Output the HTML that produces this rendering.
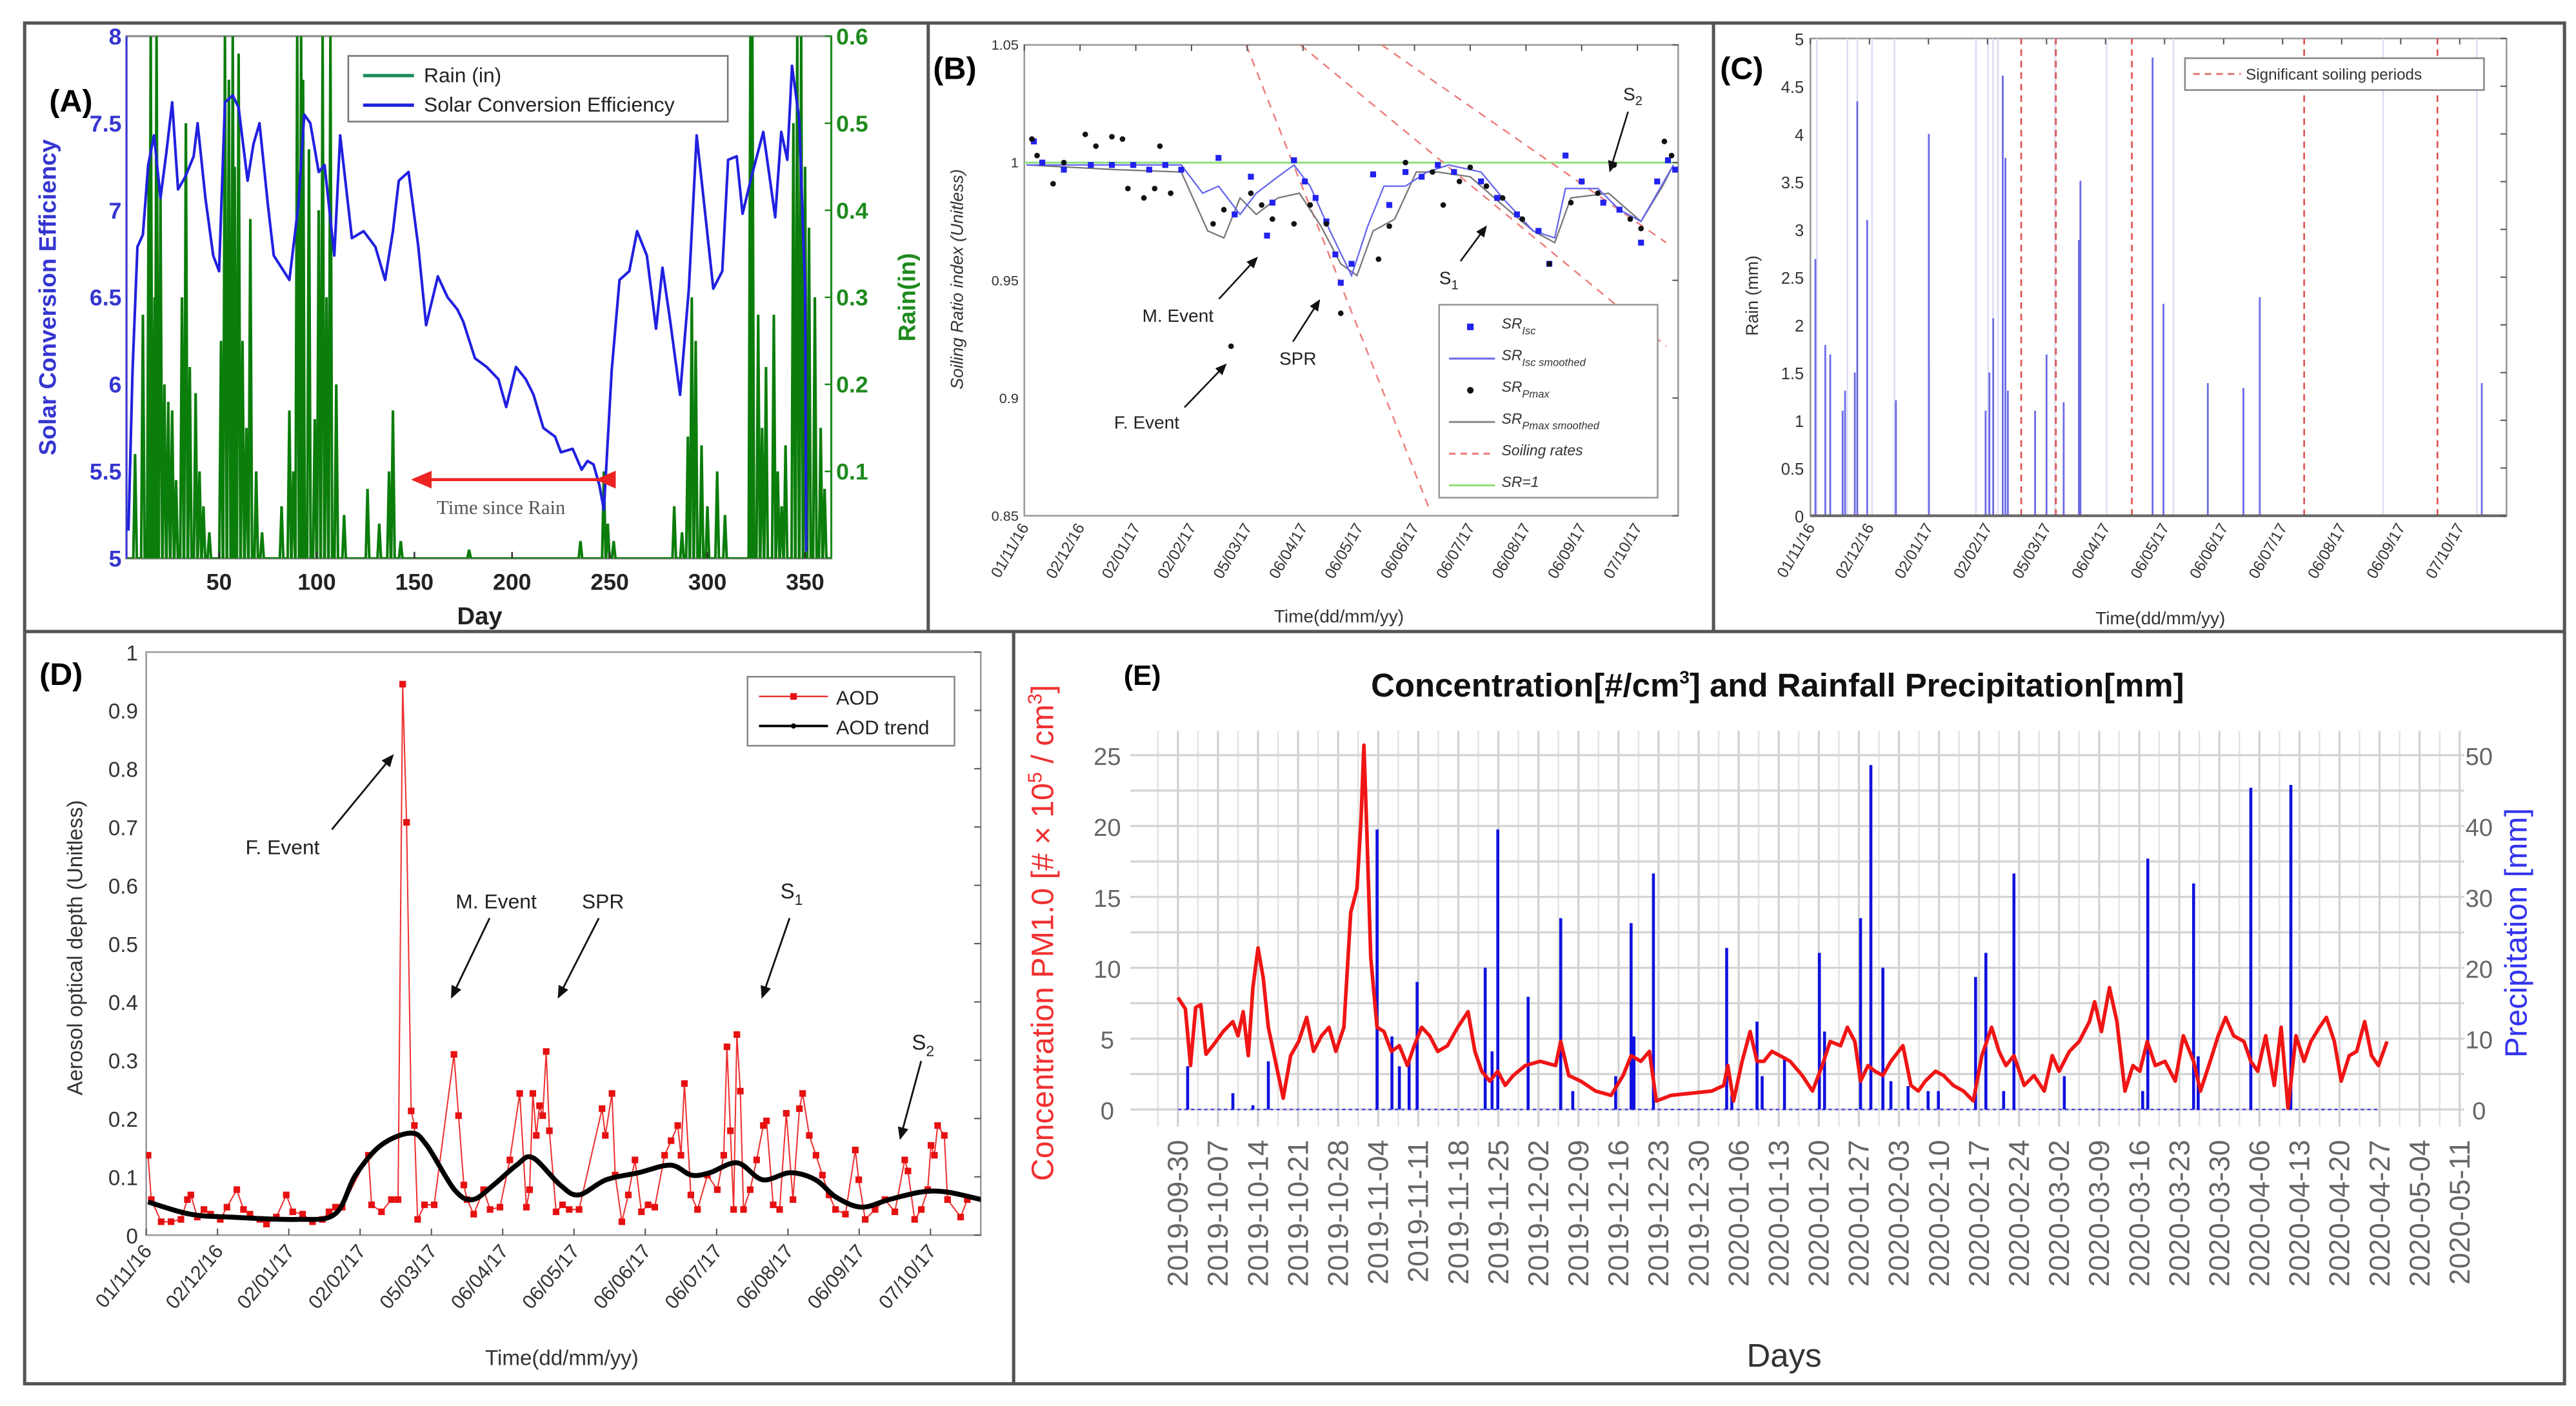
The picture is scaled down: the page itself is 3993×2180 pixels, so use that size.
<!DOCTYPE html>
<html><head><meta charset="utf-8"><style>
html,body{margin:0;padding:0;background:#fff}
svg{display:block}
text{font-family:"Liberation Sans",sans-serif}
</style></head><body>
<svg id="fig" xmlns="http://www.w3.org/2000/svg" width="3993" height="2180" viewBox="0 0 1568 856">
<rect x="0" y="0" width="1568" height="856" fill="#fff"/>
<defs>
<clipPath id="clipA"><rect x="77" y="22" width="429" height="318"/></clipPath>
<clipPath id="clipB"><rect x="623.5" y="27.3" width="398" height="286.7"/></clipPath>
<clipPath id="clipC"><rect x="1102" y="23.4" width="423.7" height="290.6"/></clipPath>
<clipPath id="clipD"><rect x="89" y="397" width="508" height="355"/></clipPath>
<marker id="arrK" markerWidth="8" markerHeight="8" refX="6" refY="3" orient="auto"><path d="M0,0 L7,3 L0,6 Z" fill="#111"/></marker>
<marker id="arrR" markerWidth="8" markerHeight="8" refX="6" refY="3" orient="auto"><path d="M0,0 L7,3 L0,6 Z" fill="#e22"/></marker>
</defs>
<!-- panel borders -->
<g fill="none" stroke="#555" stroke-width="2">
<rect x="15" y="14" width="1546" height="828.5"/>
<line x1="15" y1="384.5" x2="1561" y2="384.5"/>
<line x1="565" y1="14" x2="565" y2="384.5"/>
<line x1="1043" y1="14" x2="1043" y2="384.5"/>
<line x1="617" y1="384.5" x2="617" y2="842.5"/>
</g>
<g id="pA"></g>
<g id="pB"></g>
<g id="pC"></g>
<g id="pD"></g>
<g id="pE"></g>

<!-- static texts -->
<text x="30" y="68" font-size="19" font-weight="bold">(A)</text>
<text transform="translate(34,181) rotate(-90)" text-anchor="middle" font-size="14.5" font-weight="bold" fill="#3535d0">Solar Conversion Efficiency</text>
<text transform="translate(557,181) rotate(-90)" text-anchor="middle" font-size="14.5" font-weight="bold" fill="#1e8a1e">Rain(in)</text>
<text x="292" y="380" text-anchor="middle" font-size="15" font-weight="bold" fill="#222">Day</text>
<text x="305" y="313" text-anchor="middle" font-size="12" fill="#555" font-family="Liberation Serif, serif" style="font-family:'Liberation Serif',serif">Time since Rain</text>

<text x="568" y="48" font-size="19" font-weight="bold">(B)</text>
<text transform="translate(586,170) rotate(-90)" text-anchor="middle" font-size="10.5" font-style="italic" fill="#333">Soiling Ratio index (Unitless)</text>
<text x="815" y="379" text-anchor="middle" font-size="11" fill="#333">Time(dd/mm/yy)</text>
<text x="717" y="196" text-anchor="middle" font-size="11" fill="#222">M. Event</text>
<text x="790" y="222" text-anchor="middle" font-size="11" fill="#222">SPR</text>
<text x="698" y="261" text-anchor="middle" font-size="11" fill="#222">F. Event</text>
<text x="876" y="173" font-size="11" fill="#222">S<tspan font-size="8" dy="3">1</tspan></text>
<text x="988" y="61" font-size="11" fill="#222">S<tspan font-size="8" dy="3">2</tspan></text>

<text x="1047" y="48" font-size="19" font-weight="bold">(C)</text>
<text transform="translate(1070,180) rotate(-90)" text-anchor="middle" font-size="10.5" fill="#333">Rain (mm)</text>
<text x="1315" y="380" text-anchor="middle" font-size="11" fill="#333">Time(dd/mm/yy)</text>

<text x="24" y="417" font-size="19" font-weight="bold">(D)</text>
<text transform="translate(50,577) rotate(-90)" text-anchor="middle" font-size="13" fill="#333">Aerosol optical depth (Unitless)</text>
<text x="342" y="831" text-anchor="middle" font-size="13" fill="#333">Time(dd/mm/yy)</text>
<text x="172" y="520" text-anchor="middle" font-size="12.5" fill="#222">F. Event</text>
<text x="302" y="553" text-anchor="middle" font-size="12.5" fill="#222">M. Event</text>
<text x="367" y="553" text-anchor="middle" font-size="12.5" fill="#222">SPR</text>
<text x="475" y="547" font-size="13" fill="#222">S<tspan font-size="9" dy="4">1</tspan></text>
<text x="555" y="639" font-size="13" fill="#222">S<tspan font-size="9" dy="4">2</tspan></text>

<text x="684" y="417" font-size="17" font-weight="bold">(E)</text>
<text x="1082" y="424" text-anchor="middle" font-size="20" font-weight="bold" fill="#111">Concentration[#/cm<tspan font-size="11" dy="-8">3</tspan><tspan dy="8">] and Rainfall Precipitation[mm]</tspan></text>
<text transform="translate(641,568) rotate(-90)" text-anchor="middle" font-size="19" fill="#f03030">Concentration PM1.0 [# × 10<tspan font-size="12" dy="-7">5</tspan><tspan dy="7"> / cm</tspan><tspan font-size="12" dy="-7">3</tspan><tspan dy="7">]</tspan></text>
<text transform="translate(1538,568) rotate(-90)" text-anchor="middle" font-size="19" fill="#3333ee">Precipitation [mm]</text>
<text x="1086" y="832" text-anchor="middle" font-size="20" fill="#333">Days</text>
</svg>
<script>
const NS='http://www.w3.org/2000/svg';
function mk(tag,attrs,parent){const e=document.createElementNS(NS,tag);for(const k in attrs)e.setAttribute(k,attrs[k]);parent.appendChild(e);return e;}

/* ---------------- Panel A data ---------------- */
const aSceDay=[3.6,5.7,8.2,11,13.7,16.7,20,23,26,29,32.6,37,39,43,47,50,53,57,60,64.6,67.6,70.7,75,78,86,90.6,93.6,96.7,101,104,109,112,118,124,130,135,139,142,147,152,156,162,167,172,175,181,187,193,197,202,207,211,216,222,225,231,235.6,238.6,241.7,244.7,247,251,255,260,264,269,273.7,277,281,286,290.5,294.5,298,303,307.6,310.6,315,318,322.5,328.6,334.7,337.8,340.9,343.3,347,350,350.6];
const aSceVal=[5.16,6.08,6.79,6.86,7.26,7.43,7.07,7.33,7.62,7.12,7.19,7.31,7.5,7.07,6.74,6.65,7.62,7.66,7.59,7.17,7.38,7.5,7.03,6.74,6.6,7.03,7.55,7.5,7.22,7.26,6.74,7.43,6.84,6.88,6.79,6.6,6.88,7.17,7.22,6.79,6.34,6.62,6.5,6.43,6.36,6.15,6.1,6.03,5.87,6.1,6.03,5.94,5.75,5.7,5.61,5.63,5.51,5.56,5.54,5.42,5.28,6.08,6.6,6.65,6.88,6.74,6.32,6.67,6.36,5.94,6.55,7.43,7.07,6.55,6.65,7.29,7.31,6.98,7.19,7.45,6.96,7.45,7.29,7.83,7.52,6.55,5.04];
const aRainDay=[7,11,14,15,17,18,20,22,24,26,28,31,33,35,38,40,42,45,51,53,55,57,58,60,62,64,66,69,72,82,86,88,90,92,93,96,99,101,103,105,107,110,114,126,132,137,139,143,178,235,247,249,252,283,287,290,292,294,297,300,305,309,322,323,326,328,330,334,336,338,340,344,346,348,350,352,355,358,360];
const aRainVal=[0.12,0.28,0.45,0.6,0.3,0.6,0.42,0.2,0.18,0.17,0.09,0.3,0.5,0.22,0.19,0.1,0.06,0.03,0.25,0.6,0.55,0.6,0.45,0.58,0.25,0.15,0.39,0.1,0.03,0.06,0.17,0.1,0.6,0.6,0.55,0.47,0.16,0.4,0.6,0.3,0.6,0.2,0.05,0.08,0.04,0.1,0.17,0.02,0.01,0.02,0.1,0.04,0.02,0.06,0.03,0.14,0.3,0.25,0.13,0.06,0.1,0.05,0.6,0.6,0.28,0.15,0.22,0.28,0.1,0.06,0.13,0.5,0.6,0.6,0.45,0.38,0.3,0.15,0.08];
const aXTicks=[50,100,150,200,250,300,350];
const aYTicks=[5,5.5,6,6.5,7,7.5,8];
const aY2Ticks=[0.1,0.2,0.3,0.4,0.5,0.6];

/* ---------------- Panel B data ---------------- */
const bDateLabels=['01/11/16','02/12/16','02/01/17','02/02/17','05/03/17','06/04/17','06/05/17','06/06/17','06/07/17','06/08/17','06/09/17','07/10/17'];
const bYTicks=[0.85,0.9,0.95,1,1.05];
const bPmaxDay=[4.2,7.1,16,22,33.9,39.8,48.7,54.6,57.6,66.5,72.5,75.4,81.4,105,111,115,126,132,138,150,159,168,176,197,203,212,227,233,242,248,257,266,277,292,304,319,328,337,343,356,360];
const bPmaxVal=[1.01,1.003,0.991,1.0,1.012,1.007,1.011,1.01,0.989,0.985,0.989,1.007,0.987,0.974,0.98,0.922,0.987,0.982,0.976,0.974,0.982,0.974,0.936,0.959,0.973,1.0,0.996,0.982,0.992,0.998,0.99,0.985,0.976,0.957,0.983,0.987,0.999,0.976,0.972,1.009,1.003];
const bIscDay=[5.3,10,22,37,48.7,60.6,69.5,78.4,87.3,108,117,126,135,138,150,156,162,168,173,176,182,194,203,212,221,230,239,254,263,274,286,292,301,310,322,331,343,352,358,362];
const bIscVal=[1.009,1.0,0.997,0.999,0.999,0.999,0.997,0.999,0.997,1.002,0.978,0.994,0.969,0.983,1.001,0.992,0.985,0.975,0.961,0.949,0.957,0.995,0.982,0.996,0.994,0.999,0.996,0.992,0.985,0.978,0.971,0.957,1.003,0.992,0.983,0.98,0.966,0.992,1.001,0.997];
const bIscSmDay=[1.2,51.7,87.3,99.2,108,120,129,141,150,159,170,182,191,200,212,224,236,254,266,283,295,301,319,331,343,352,361];
const bIscSmVal=[0.999,0.999,0.999,0.987,0.99,0.978,0.987,0.994,0.999,0.99,0.971,0.952,0.973,0.99,0.99,0.996,0.999,0.996,0.985,0.971,0.968,0.989,0.989,0.98,0.975,0.987,0.999];
const bPmaxSmDay=[1.2,51.7,87.3,102,111,120,129,141,153,165,176,185,194,206,218,230,248,266,283,295,304,325,343,355,361];
const bPmaxSmVal=[0.999,0.997,0.996,0.971,0.968,0.985,0.978,0.985,0.987,0.973,0.957,0.952,0.971,0.976,0.996,0.996,0.994,0.982,0.971,0.966,0.985,0.987,0.975,0.99,0.999];
const bRateStartDay=[123.4,153.5,198.7];
const bRateStartVal=[1.05,1.05,1.05];
const bRateEndDay=[225.3,357,357];
const bRateEndVal=[0.8528,0.922,0.966];

/* ---------------- Panel C data ---------------- */
const cRainDay=[2.6,7.8,10.4,16.9,18.2,23.3,24.6,29.8,44.9,62.2,62.2,92,94,96,101,102.4,103.7,118,124,133,141,141.8,179.7,185.4,208.7,227.4,236,352.6];
const cRainVal=[2.69,1.79,1.69,1.1,1.31,1.5,4.34,3.1,1.21,4.0,1.58,1.1,1.5,2.07,4.61,3.75,1.31,1.1,1.69,1.19,2.89,3.51,4.8,2.22,1.39,1.34,2.29,1.39];
const cFaintDay=[3.4,19.4,24.6,32.4,44.1,86.9,93.3,95.9,98.5,128.4,155.6,190.6,300.8,350];
const cSoilDay=[110.7,128.9,168.8,259.3,329.3];
const cYTicks=[0,0.5,1,1.5,2,2.5,3,3.5,4,4.5,5];

/* ---------------- Panel D data ---------------- */
const dAodDay=[0.8,2.2,6.5,10.8,15.1,17.9,19.4,22.2,25.1,28,32.2,35.1,39.4,42.3,45.1,49.4,52.3,56.6,60.9,63.7,68,72.3,76.6,79.5,82.3,85.2,96.6,98,102.3,106.6,109.5,111.5,113.2,115.2,116.6,118,121,125.2,133.8,135.8,138.1,139.5,142.4,146.7,149.5,153.8,158.1,162.4,165.3,166.7,168.1,169.6,171,172.4,173.9,175.3,178.2,181,183.9,188.2,198.2,199.6,202.5,203.9,206.8,209.6,212.5,215.3,218.2,221.1,225.4,228.2,231.1,232.5,234,236.8,239.7,244,248.3,251.1,252.5,254,255.4,256.8,258.3,259.7,262.6,265.4,268.3,269.7,272.6,275.4,278.3,281.2,284,285.4,288.3,291.2,294,296.9,299.7,304,308.3,309.8,312.6,316.9,321.2,325.5,329.8,331.2,334.1,337,339.8,341.2,342.7,344.1,347,348.4,354.1,357];
const dAodVal=[0.137,0.061,0.023,0.023,0.027,0.061,0.069,0.031,0.044,0.036,0.027,0.048,0.078,0.044,0.036,0.027,0.019,0.031,0.069,0.04,0.036,0.023,0.027,0.04,0.048,0.048,0.137,0.052,0.04,0.061,0.061,0.945,0.708,0.213,0.188,0.027,0.052,0.052,0.31,0.205,0.086,0.061,0.036,0.078,0.044,0.048,0.129,0.243,0.048,0.078,0.243,0.171,0.222,0.205,0.315,0.179,0.04,0.052,0.044,0.044,0.217,0.171,0.243,0.103,0.023,0.069,0.129,0.04,0.052,0.048,0.137,0.162,0.188,0.137,0.26,0.069,0.044,0.103,0.078,0.137,0.323,0.179,0.044,0.344,0.247,0.044,0.078,0.129,0.188,0.196,0.052,0.044,0.209,0.061,0.217,0.243,0.171,0.137,0.103,0.069,0.044,0.036,0.146,0.095,0.027,0.044,0.061,0.04,0.129,0.11,0.027,0.044,0.078,0.154,0.137,0.188,0.171,0.061,0.031,0.061];
const dTrendDay=[0.8,19,36.5,65,82,91,102,115,122,134,142,151,161,168,180,188,200,214,228,237,245,257,268,280,291,300,311,323,337,348,363];
const dTrendVal=[0.057,0.036,0.031,0.027,0.036,0.103,0.154,0.175,0.154,0.078,0.061,0.086,0.12,0.133,0.086,0.069,0.095,0.107,0.12,0.103,0.107,0.124,0.095,0.107,0.095,0.065,0.048,0.061,0.074,0.074,0.061];
const dYTicks=[0,0.1,0.2,0.3,0.4,0.5,0.6,0.7,0.8,0.9,1];

/* ---------------- Panel E data ---------------- */
const eDateLabels=['2019-09-30','2019-10-07','2019-10-14','2019-10-21','2019-10-28','2019-11-04','2019-11-11','2019-11-18','2019-11-25','2019-12-02','2019-12-09','2019-12-16','2019-12-23','2019-12-30','2020-01-06','2020-01-13','2020-01-20','2020-01-27','2020-02-03','2020-02-10','2020-02-17','2020-02-24','2020-03-02','2020-03-09','2020-03-16','2020-03-23','2020-03-30','2020-04-06','2020-04-13','2020-04-20','2020-04-27','2020-05-04','2020-05-11'];
const eConcDay=[0,1.3,2.2,3.1,4,4.9,6.1,7.9,9.6,10.5,11.4,12.3,13.1,14,14.9,15.8,17.2,18.4,19.7,21.1,22.5,23.7,25.1,26.4,27.6,29,30.2,31.3,32,32.5,33,33.7,34.8,36,37.3,38.7,40.1,41.3,42.6,44,45.4,47.1,48.9,50.7,51.9,53.1,54.5,55.9,57.2,58.6,60.7,63.3,66,66.9,68.3,70.4,73,75.7,77.8,79.2,80.9,82.4,83.6,86.2,93.3,95.4,96.1,97.1,98.6,100,101.2,102.4,103.8,105.2,107,109.1,110.9,112.6,114,115.8,117,118.3,119.3,120.6,121.8,123.2,124.6,126.7,128.1,129.4,130.6,132.4,133.8,135.5,137.3,139,140.5,142.2,143.5,144.7,146.1,147.9,149.6,151.4,152.8,154,155.8,157.5,159.3,160.2,161.4,162.8,164.1,165.5,166.9,168.1,169.4,170.8,172.5,174.3,175.7,177.5,178.7,180.4,181.8,183.1,184.5,186.3,187.5,188.7,190.1,191.6,192.8,194,195.4,196.8,198,199.5,200.7,202.1,203.3,204.7,206,207.4,208.6,209.8,211.3];
const eConcVal=[7.9,7.1,3.1,7.2,7.4,3.9,4.5,5.5,6.2,5.2,6.9,3.8,8.6,11.4,9.3,5.8,3.1,0.8,3.8,4.8,6.5,4.1,5.2,5.8,4.1,5.8,13.9,15.6,20.5,25.7,19.8,10.7,5.8,5.5,4.1,4.5,3.1,4.5,5.8,5.2,4.1,4.5,5.8,6.9,4.1,2.7,2.0,2.7,1.7,2.4,3.1,3.4,3.1,4.8,2.4,2.0,1.3,1.0,2.4,3.8,3.4,4.1,0.6,1.0,1.3,1.7,3.1,0.6,3.4,5.5,3.4,3.4,4.1,3.8,3.4,2.4,1.3,3.1,4.8,4.5,5.8,4.8,2.0,3.1,2.7,2.4,3.4,4.5,1.7,1.3,2.0,2.7,2.4,1.7,1.3,0.6,3.8,5.8,4.1,3.1,3.8,1.7,2.4,1.3,3.8,2.7,4.1,4.8,6.2,7.6,5.5,8.6,6.2,1.3,3.1,2.7,4.8,3.1,3.4,2.0,5.2,3.4,1.3,3.4,5.2,6.5,5.2,4.8,3.4,2.7,5.2,1.7,5.8,0.1,5.2,3.4,4.8,5.8,6.5,4.8,2.0,3.8,4.1,6.2,3.8,3.1,4.8];
const ePrecDay=[1.7,9.6,13.1,15.8,34.8,37.4,38.7,40.4,41.8,53.7,54.9,55.9,61.2,66.9,69,76.5,79.2,79.7,83.1,95.9,96.8,101.2,102.1,106,112.1,113,119.3,121.1,123.2,124.6,127.6,131.1,132.9,139.4,141.2,144.3,146.1,154.9,168.6,169.5,177.5,178.3,187.5,194.5];
const ePrecVal=[6.1,2.3,0.6,6.8,39.5,10.3,6.1,6.8,18,20,8.2,39.5,15.9,27,2.6,4.7,26.3,10.3,33.3,22.8,2,12.4,4.7,7.5,22.1,11,27,48.6,20,4,3.3,2.6,2.6,18.7,22.1,2.6,33.3,4.7,2.6,35.4,31.9,7.5,45.4,45.8];
const eYTicks=[0,5,10,15,20,25];
const eY2Ticks=[0,10,20,30,40,50];

/* ================== DRAW ================== */
function pts(xs,ys,fx,fy){return xs.map((d,i)=>fx(d).toFixed(2)+','+fy(ys[i]).toFixed(2)).join(' ');}

/* ---- Panel A ---- */
(function(){
const g=document.getElementById('pA');
const x=d=>73.9+d*1.189, y=v=>340-(v-5)/3*318, yr=r=>340-r/0.6*318;
const frame=mk('rect',{x:77,y:22,width:429,height:318,fill:'#fff',stroke:'#888','stroke-width':1.2},g);


// rain
const order=aRainDay.map((d,i)=>i).sort((a,b)=>aRainDay[a]-aRainDay[b]);
let rp=[[x(3),yr(0)]];
order.forEach(i=>{const d=aRainDay[i];rp.push([x(d-0.9),yr(0)],[x(d),yr(aRainVal[i])],[x(d+0.9),yr(0)]);});
rp.push([x(363),yr(0)]);
const rain=mk('polyline',{points:rp.map(p=>p[0].toFixed(2)+','+p[1].toFixed(2)).join(' '),fill:'none',stroke:'#0b7d0b','stroke-width':1.6,'clip-path':'url(#clipA)'},g);


const sce=mk('polyline',{points:pts(aSceDay,aSceVal,x,y),fill:'none',stroke:'#2020e0','stroke-width':1.6,'stroke-linejoin':'round','clip-path':'url(#clipA)'},g);


// axis lines
const la=mk('line',{x1:77,y1:22,x2:77,y2:340,stroke:'#3535d0','stroke-width':1.2},g);


const ra=mk('line',{x1:506,y1:22,x2:506,y2:340,stroke:'#1e8a1e','stroke-width':1.2},g);


aXTicks.forEach(t=>{
 const tk=mk('line',{x1:x(t),y1:340,x2:x(t),y2:336,stroke:'#333','stroke-width':1},g);
 
 
 const tl=mk('text',{x:x(t),y:359,'text-anchor':'middle','font-size':14,'font-weight':'bold',fill:'#222'},g);
 
 
 tl.textContent=t;
});
aYTicks.forEach(t=>{
 const tl=mk('text',{x:74,y:y(t)+5,'text-anchor':'end','font-size':14,'font-weight':'bold',fill:'#3535d0'},g);
 
 
 tl.textContent=t;
});
aY2Ticks.forEach(t=>{
 const tk=mk('line',{x1:506,y1:yr(t),x2:502,y2:yr(t),stroke:'#1e8a1e','stroke-width':1},g);
 
 
 const tl=mk('text',{x:509,y:yr(t)+5,'font-size':14,'font-weight':'bold',fill:'#1e8a1e'},g);
 
 
 tl.textContent=t;
});
// legend
const lg=mk('g',{},g);


mk('rect',{x:212,y:34,width:231,height:40,fill:'#fff',stroke:'#777','stroke-width':1},lg);
mk('line',{x1:221,y1:46,x2:252,y2:46,stroke:'#1a8a5a','stroke-width':2},lg);
mk('line',{x1:221,y1:64,x2:252,y2:64,stroke:'#2020e0','stroke-width':2},lg);
const l1=mk('text',{x:258,y:50,'font-size':12.5,fill:'#222'},lg);l1.textContent='Rain (in)';
const l2=mk('text',{x:258,y:68,'font-size':12.5,fill:'#222'},lg);l2.textContent='Solar Conversion Efficiency';
// arrow
const ar=mk('line',{x1:364,y1:292,x2:252,y2:292,stroke:'#e22','stroke-width':1.8,'marker-end':'url(#arrR)','marker-start':'url(#arrR)'},g);


})();

/* ---- Panel B ---- */
(function(){
const g=document.getElementById('pB');
const x=d=>623.5+d*1.0944, y=v=>27.3+(1.05-v)/0.2*286.7;
const fr=mk('rect',{x:623.5,y:27.3,width:398,height:286.7,fill:'#fff',stroke:'#999','stroke-width':1},g);


const cg=mk('g',{'clip-path':'url(#clipB)'},g);
const gl=mk('line',{x1:623.5,y1:y(1),x2:1021.5,y2:y(1),stroke:'#8ee07a','stroke-width':1.2},cg);


bRateStartDay.forEach((d,i)=>{
 const ln=mk('line',{x1:x(d),y1:y(bRateStartVal[i]),x2:x(bRateEndDay[i]),y2:y(bRateEndVal[i]),stroke:'#ee8080','stroke-width':1,'stroke-dasharray':'5 4'},cg);
 
 
});
const s1=mk('polyline',{points:pts(bPmaxSmDay,bPmaxSmVal,x,y),fill:'none',stroke:'#777','stroke-width':0.9},cg);


const s2=mk('polyline',{points:pts(bIscSmDay,bIscSmVal,x,y),fill:'none',stroke:'#6666ee','stroke-width':0.9},cg);


bIscDay.forEach((d,i)=>{
 const p=mk('rect',{x:x(d)-1.8,y:y(bIscVal[i])-1.8,width:3.6,height:3.6,fill:'#2222ee'},cg);
 
 
});
bPmaxDay.forEach((d,i)=>{
 const p=mk('circle',{cx:x(d),cy:y(bPmaxVal[i]),r:1.7,fill:'#111'},cg);
 
 
});
bYTicks.forEach(t=>{
 const tl=mk('text',{x:620,y:y(t)+3,'text-anchor':'end','font-size':8.5,fill:'#333'},g);
 
 
 tl.textContent=t;
 const tk=mk('line',{x1:1021.5,y1:y(t),x2:1018,y2:y(t),stroke:'#555','stroke-width':0.8},g);
 
 
});
bDateLabels.forEach((lab,i)=>{
 const xx=x(i*31);
 const tk=mk('line',{x1:xx,y1:27.3,x2:xx,y2:31,stroke:'#555','stroke-width':0.8},g);
 
 
 const tl=mk('text',{transform:`translate(${xx+3},${321}) rotate(-60)`,'text-anchor':'end','font-size':9.5,fill:'#333'},g);
 
 
 tl.textContent=lab;
});
// arrows
const arr=[[742,182,765,157],[787,208,803,183],[721,248,746,222],[889,159,904.5,138],[991,68,980,104]];
arr.forEach(a=>{
 const l=mk('line',{x1:a[0],y1:a[1],x2:a[2],y2:a[3],stroke:'#111','stroke-width':1,'marker-end':'url(#arrK)'},g);
 
 
});
// legend
const lg=mk('g',{},g);


mk('rect',{x:876,y:185.5,width:133,height:117.5,fill:'#fff',stroke:'#999','stroke-width':1},lg);
const ent=[['m','#2222ee','SR','Isc'],['l','#6666ee','SR','Isc smoothed'],['d','#111','SR','Pmax'],['l','#888','SR','Pmax smoothed'],['r','#ee8080','Soiling rates',''],['g','#8ee07a','SR=1','']];
ent.forEach((e,i)=>{
 const yy=199+i*19.3;
 if(e[0]==='m')mk('rect',{x:893,y:yy-2,width:4,height:4,fill:e[1]},lg);
 else if(e[0]==='d')mk('circle',{cx:895,cy:yy,r:2,fill:e[1]},lg);
 else mk('line',{x1:882,y1:yy,x2:910,y2:yy,stroke:e[1],'stroke-width':1.2,'stroke-dasharray':e[0]==='r'?'4 3':'none'},lg);
 const t=mk('text',{x:914,y:yy+1,'font-size':9,'font-style':'italic',fill:'#333'},lg);
 t.textContent=e[2];
 if(e[3]){const s=mk('tspan',{'font-size':6.5,dy:3.5},t);s.textContent=e[3];}
});
})();

/* ---- Panel C ---- */
(function(){
const g=document.getElementById('pC');
const x=d=>1102+d*1.159, y=v=>314-v*58.12;
const fr=mk('rect',{x:1102,y:23.4,width:423.7,height:290.6,fill:'#fff',stroke:'#999','stroke-width':1},g);


const cg=mk('g',{'clip-path':'url(#clipC)'},g);
cFaintDay.forEach(d=>{
 const l=mk('line',{x1:x(d),y1:y(0),x2:x(d),y2:y(5),stroke:'#dcdcf6','stroke-width':1},cg);
 
 
});
cRainDay.forEach((d,i)=>{
 const l=mk('line',{x1:x(d),y1:y(0),x2:x(d),y2:y(cRainVal[i]),stroke:'#6a6ae8','stroke-width':1.1},cg);
 
 
});
cSoilDay.forEach(d=>{
 const l=mk('line',{x1:x(d),y1:y(0),x2:x(d),y2:y(5),stroke:'#e04a4a','stroke-width':1,'stroke-dasharray':'4 3'},cg);
 
 
});
const base=mk('line',{x1:1102,y1:y(0),x2:1525.7,y2:y(0),stroke:'#666','stroke-width':1.6},g);


cYTicks.forEach(t=>{
 const tl=mk('text',{x:1098,y:y(t)+4,'text-anchor':'end','font-size':10,fill:'#333'},g);
 
 
 tl.textContent=t;
 const tk=mk('line',{x1:1525.7,y1:y(t),x2:1522,y2:y(t),stroke:'#555','stroke-width':0.8},g);
 
 
});
bDateLabels.forEach((lab,i)=>{
 const xx=x(i*31);
 const tk=mk('line',{x1:xx,y1:23.4,x2:xx,y2:27,stroke:'#555','stroke-width':0.8},g);
 
 
 const tl=mk('text',{transform:`translate(${xx+3},${321}) rotate(-60)`,'text-anchor':'end','font-size':9.5,fill:'#333'},g);
 
 
 tl.textContent=lab;
});
const lg=mk('g',{},g);


mk('rect',{x:1330,y:35.4,width:182,height:19.4,fill:'#fff',stroke:'#888','stroke-width':1},lg);
mk('line',{x1:1335,y1:45,x2:1364,y2:45,stroke:'#e07a7a','stroke-width':1.2,'stroke-dasharray':'4 3'},lg);
const t=mk('text',{x:1367,y:48.5,'font-size':9.5,fill:'#333'},lg);t.textContent='Significant soiling periods';
})();

/* ---- Panel D ---- */
(function(){
const g=document.getElementById('pD');
const x=d=>89+d*1.4, y=v=>752-v*355;
const fr=mk('rect',{x:89,y:397,width:508,height:355,fill:'#fff',stroke:'#999','stroke-width':1},g);


const cg=mk('g',{'clip-path':'url(#clipD)'},g);
const al=mk('polyline',{points:pts(dAodDay,dAodVal,x,y),fill:'none',stroke:'#ee3030','stroke-width':0.8},cg);


dAodDay.forEach((d,i)=>{
 const p=mk('rect',{x:x(d)-2,y:y(dAodVal[i])-2,width:4,height:4,fill:'#e61010'},cg);
 
 
});
// smooth trend via Catmull-Rom
const P=dTrendDay.map((d,i)=>[x(d),y(dTrendVal[i])]);
let dstr='M'+P[0][0]+','+P[0][1];
for(let i=0;i<P.length-1;i++){const p0=P[Math.max(0,i-1)],p1=P[i],p2=P[i+1],p3=P[Math.min(P.length-1,i+2)];
 dstr+=` C${p1[0]+(p2[0]-p0[0])/6},${p1[1]+(p2[1]-p0[1])/6} ${p2[0]-(p3[0]-p1[0])/6},${p2[1]-(p3[1]-p1[1])/6} ${p2[0]},${p2[1]}`;}
const tr=mk('path',{d:dstr,fill:'none',stroke:'#000','stroke-width':3},cg);


dYTicks.forEach(t=>{
 const tl=mk('text',{x:84,y:y(t)+5,'text-anchor':'end','font-size':13,fill:'#333'},g);
 
 
 tl.textContent=t;
 const tk=mk('line',{x1:597,y1:y(t),x2:593,y2:y(t),stroke:'#555','stroke-width':0.8},g);
 
 
});
bDateLabels.forEach((lab,i)=>{
 const xx=x(i*31);
 const tk=mk('line',{x1:xx,y1:752,x2:xx,y2:748,stroke:'#555','stroke-width':0.8},g);
 
 
 const tl=mk('text',{transform:`translate(${xx+4},${762}) rotate(-50)`,'text-anchor':'end','font-size':12,fill:'#333'},g);
 
 
 tl.textContent=lab;
});
const arr=[[202,505,239,460],[298,559,275,607],[364.5,559,340,607],[480.6,559,464,607],[560.7,646,548,693]];
arr.forEach(a=>{
 const l=mk('line',{x1:a[0],y1:a[1],x2:a[2],y2:a[3],stroke:'#111','stroke-width':1.1,'marker-end':'url(#arrK)'},g);
 
 
});
const lg=mk('g',{},g);


mk('rect',{x:455,y:412,width:126,height:42,fill:'#fff',stroke:'#888','stroke-width':1},lg);
mk('line',{x1:462,y1:424,x2:504,y2:424,stroke:'#ee3030','stroke-width':0.9},lg);
mk('rect',{x:481,y:422,width:4,height:4,fill:'#e61010'},lg);
mk('line',{x1:462,y1:442,x2:504,y2:442,stroke:'#000','stroke-width':1.5},lg);
mk('circle',{cx:483,cy:442,r:1.6,fill:'#000'},lg);
const t1=mk('text',{x:509,y:429,'font-size':12,fill:'#222'},lg);t1.textContent='AOD';
const t2=mk('text',{x:509,y:447,'font-size':12,fill:'#222'},lg);t2.textContent='AOD trend';
})();

/* ---- Panel E ---- */
(function(){
const g=document.getElementById('pE');
const x=d=>717+d*3.483, y=v=>675.5-v*8.63, yp=p=>675.5-p*4.315;
const grid=mk('g',{},g);


for(let k=-1;k<=66;k++){const xx=x(k*3.5);if(xx<690||xx>1500)continue;
 mk('line',{x1:xx,y1:445,x2:xx,y2:686,stroke:k%2===0?'#d2d2d2':'#e4e4e4','stroke-width':k%2===0?1.3:1},grid);}
for(let v=-1;v<=11;v++){const yy=y(v*2.5);if(yy<447||yy>686)continue;
 mk('line',{x1:688,y1:yy,x2:1500,y2:yy,stroke:'#d4d4d4','stroke-width':1.3},grid);}
const bl=mk('line',{x1:x(0),y1:yp(0),x2:x(210),y2:yp(0),stroke:'#3030ee','stroke-width':0.8,'stroke-dasharray':'2 2'},g);


ePrecDay.forEach((d,i)=>{
 const b=mk('rect',{x:x(d)-0.9,y:yp(ePrecVal[i]),width:1.8,height:yp(0)-yp(ePrecVal[i]),fill:'#1010e0'},g);
 
 
});
const cl=mk('polyline',{points:pts(eConcDay,eConcVal,x,y),fill:'none',stroke:'#f01515','stroke-width':2.2,'stroke-linejoin':'round'},g);


eYTicks.forEach(t=>{
 const tl=mk('text',{x:674,y:y(t)+6,'text-anchor':'middle','font-size':15,fill:'#666'},g);
 
 
 tl.textContent=t;
});
eY2Ticks.forEach(t=>{
 const tl=mk('text',{x:1509,y:yp(t)+6,'text-anchor':'middle','font-size':15,fill:'#666'},g);
 
 
 tl.textContent=t;
});
eDateLabels.forEach((lab,i)=>{
 const xx=x(i*7);
 const tl=mk('text',{transform:`translate(${xx+6},${694}) rotate(-90)`,'text-anchor':'end','font-size':17.5,fill:'#666'},g);
 
 
 tl.textContent=lab;
});
})();
</script>
</body></html>
